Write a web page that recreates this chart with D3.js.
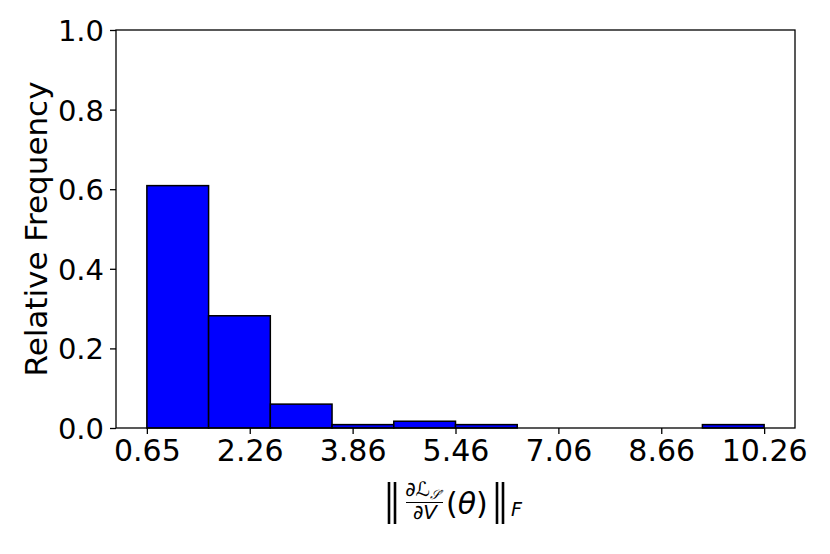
<!DOCTYPE html>
<html><head><meta charset="utf-8">
<script src="https://cdn.jsdelivr.net/npm/d3@7"></script>
<style>body{margin:0;background:#fff}svg{display:block}text{font-family:"DejaVu Sans",sans-serif;fill:#000}</style>
</head><body>
<script>
const binStart = 0.65, binEnd = 10.26;
const binValues = [0.609, 0.282, 0.06, 0.0085, 0.017, 0.0085, 0, 0, 0, 0.0085];
const xTickLabels = ["0.65","2.26","3.86","5.46","7.06","8.66","10.26"];
const yTicks = [0.0,0.2,0.4,0.6,0.8,1.0];
const yLabel = "Relative Frequency";

const W = 830, H = 554;
const m = {left:116, right:35, top:30, bottom:126};
const svg = d3.select("body").append("svg").attr("width",W).attr("height",H);
const span = binEnd - binStart;
const x = d3.scaleLinear().domain([binStart - 0.05*span, binEnd + 0.05*span]).range([m.left, W - m.right]);
const y = d3.scaleLinear().domain([0,1]).range([H - m.bottom, m.top]);
const bw = span / binValues.length;

svg.append("g").selectAll("rect").data(binValues).join("rect")
  .attr("x",(d,i)=>x(binStart + i*bw))
  .attr("width",(d,i)=>x(binStart+(i+1)*bw)-x(binStart+i*bw))
  .attr("y",d=>y(d)).attr("height",d=>y(0)-y(d))
  .attr("fill","#0000ff").attr("stroke","#000").attr("stroke-width",1.5);

const xa = svg.append("g").attr("transform",`translate(0,${y(0)})`)
  .call(d3.axisBottom(x).tickValues(d3.range(7).map(i=>binStart + i*span/6)).tickFormat((d,i)=>xTickLabels[i]).tickSize(6).tickPadding(6));
xa.selectAll("text").style("font-size","30px");
const ya = svg.append("g").attr("transform",`translate(${m.left},0)`)
  .call(d3.axisLeft(y).tickValues(yTicks).tickFormat(d3.format(".1f")).tickSize(6).tickPadding(6));
ya.selectAll("text").style("font-size","29px").attr("dy","0.36em");
[xa,ya].forEach(a=>{a.select(".domain").remove();a.selectAll("line").attr("stroke-width",1.3);});
svg.append("rect").attr("x",m.left).attr("y",m.top).attr("width",W-m.right-m.left).attr("height",y(0)-m.top)
  .attr("fill","none").attr("stroke","#000").attr("stroke-width",1.3);

svg.append("text").attr("transform",`translate(47,${(m.top+y(0))/2}) rotate(-90)`)
  .attr("text-anchor","middle").style("font-size","31px").text(yLabel);

// x label: ||dL_S'/dV (theta)||_F
const g = svg.append("g");
function dbar(x0){ [0,6].forEach(o=>g.append("line").attr("x1",x0+o).attr("x2",x0+o).attr("y1",482).attr("y2",524).attr("stroke","#000").attr("stroke-width",2.6)); }
dbar(389);
const num = g.append("text").attr("x",424).attr("y",496).attr("text-anchor","middle").style("font-size","20px");
num.append("tspan").text("∂ℒ");
num.append("tspan").attr("dy",3).style("font-size","13px").style("font-style","italic").text("𝒮′");
g.append("line").attr("x1",406).attr("x2",443).attr("y1",502.5).attr("y2",502.5).attr("stroke","#000").attr("stroke-width",1.2);
g.append("text").attr("x",425).attr("y",519).attr("text-anchor","middle").style("font-size","20px").html('∂<tspan font-style="italic">V</tspan>');
g.append("text").attr("x",446).attr("y",514).style("font-size","30px").html('(<tspan font-style="italic">θ</tspan>)');
dbar(497);
g.append("text").attr("x",511).attr("y",516).style("font-size","19px").style("font-style","italic").text("F");
</script>
</body></html>
